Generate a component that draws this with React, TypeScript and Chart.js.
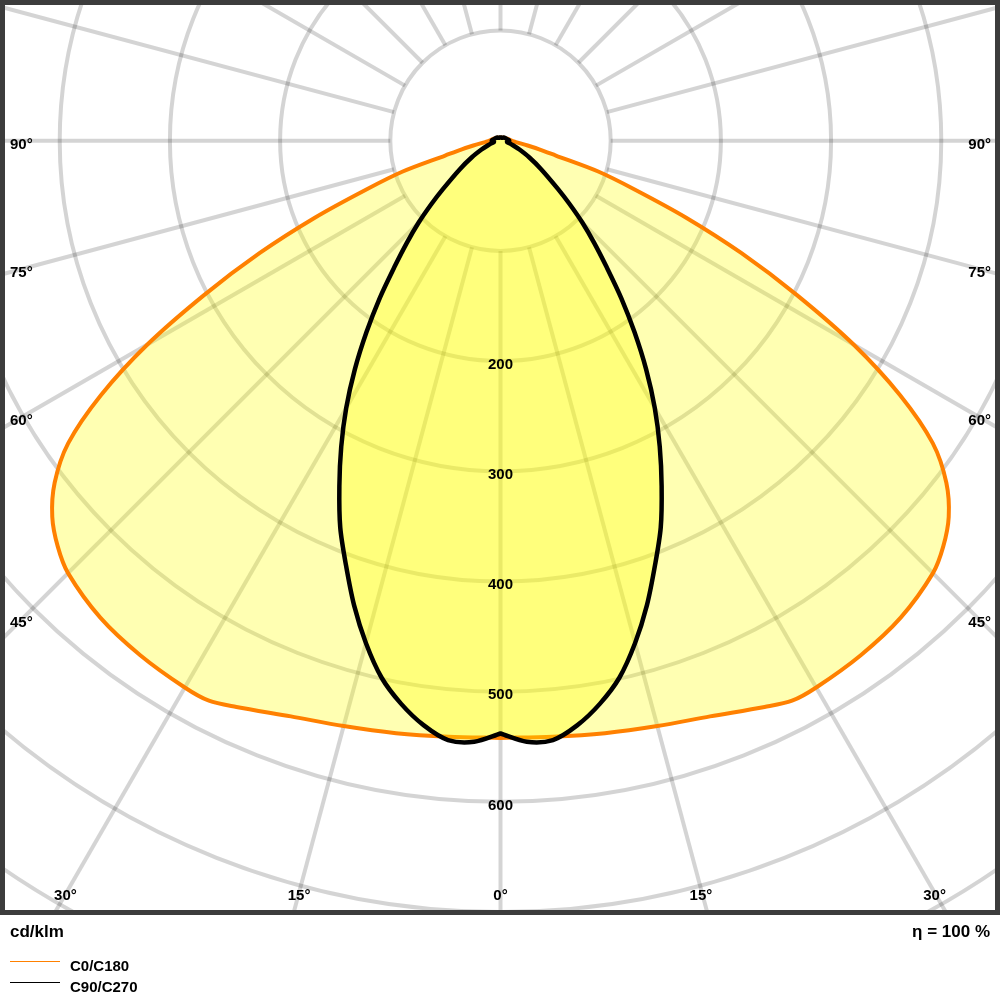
import React, { useEffect, useRef } from "react";
import { Chart, registerables } from "chart.js";

Chart.register(...registerables);

// Luminous intensity (cd/klm) per gamma angle (deg, 0 = straight down).
// Each C-plane pair is symmetric: C0 is drawn on the right, C180 mirrored on the left.
const GAMMA_C0_C180 = [0, 5, 10, 15, 20, 25, 27.5, 30, 35, 40, 45, 47.5, 50, 52.5, 55, 57.5, 60, 62.5, 65, 67.5, 70, 72.5, 75, 77.5, 80, 85, 90, 105, 120, 135, 150, 165, 180];
const I_C0_C180 = [542, 543, 546, 550, 556, 567, 573, 573, 570, 565, 555, 545, 531, 510, 479, 430, 370, 303, 241, 182, 130, 93, 52, 36, 25, 14, 10, 7, 5, 4, 3, 3, 3];

const GAMMA_C90_C270 = [0, 2.5, 5, 7.5, 10, 12.5, 15, 17.5, 20, 22.5, 25, 27.5, 30, 32.5, 35, 37.5, 40, 42.5, 45, 47.5, 50, 55, 60, 65, 70, 75, 80, 85, 90, 105, 120, 135, 150, 165, 180];
const I_C90_C270 = [538, 546, 546, 535, 519, 499, 472, 442, 410, 380, 346, 313, 280, 246, 212, 180, 150, 126, 105, 85, 68, 45, 30, 19, 12, 8, 6, 7, 8, 6, 5, 4, 3, 3, 3];

const SERIES_NAMES = ["C0/C180", "C90/C270"];
const SERIES_COLORS = ["#FF8000", "#000000"];

const RING_VALUES = [100, 200, 300, 400, 500, 600, 700, 800, 900];
const RING_LABELS = [200, 300, 400, 500, 600];
const SPOKE_STEP = 15;
const SIDE_ANGLE_LABELS = [90, 75, 60, 45];
const BOTTOM_ANGLE_LABELS = [30, 15, 0];
const UNIT_LABEL = "cd/klm";
const EFFICIENCY_LABEL = "η = 100 %";

const FONT = '"Liberation Sans", Arial, Helvetica, sans-serif';
const RAD = Math.PI / 180;

function toPoints(gammas: number[], values: number[]) {
  const right = gammas.map((g, i) => ({
    x: values[i] * Math.sin(g * RAD),
    y: -values[i] * Math.cos(g * RAD),
  }));
  const left: { x: number; y: number }[] = [];
  for (let i = gammas.length - 1; i >= 0; i--) {
    left.push({
      x: -values[i] * Math.sin(gammas[i] * RAD),
      y: -values[i] * Math.cos(gammas[i] * RAD),
    });
  }
  return [...right, ...left];
}

const polarGridPlugin = {
  id: "polarGrid",
  beforeDraw(chart: any) {
    const { ctx, width, height } = chart;
    ctx.save();
    ctx.fillStyle = "#ffffff";
    ctx.fillRect(0, 0, width, height);
    ctx.restore();
  },
  beforeDatasetsDraw(chart: any) {
    const { ctx, chartArea: a, scales } = chart;
    const cx = scales.x.getPixelForValue(0);
    const cy = scales.y.getPixelForValue(0);
    const k = (scales.x.getPixelForValue(100) - cx) / 100;
    ctx.save();
    ctx.beginPath();
    ctx.rect(a.left, a.top, a.right - a.left, a.bottom - a.top);
    ctx.clip();
    ctx.strokeStyle = "rgba(0,0,0,0.17)";
    ctx.lineWidth = 4;
    for (const r of RING_VALUES) {
      ctx.beginPath();
      ctx.arc(cx, cy, r * k, 0, Math.PI * 2);
      ctx.stroke();
    }
    const r0 = RING_VALUES[0] * k;
    const r1 = 1300 * k;
    for (let g = 0; g < 360; g += SPOKE_STEP) {
      const dx = Math.sin(g * RAD);
      const dy = Math.cos(g * RAD);
      ctx.beginPath();
      ctx.moveTo(cx + dx * r0, cy + dy * r0);
      ctx.lineTo(cx + dx * r1, cy + dy * r1);
      ctx.stroke();
    }
    ctx.restore();
  },
  afterDatasetsDraw(chart: any) {
    const { ctx, chartArea: a, scales } = chart;
    const cx = scales.x.getPixelForValue(0);
    const cy = scales.y.getPixelForValue(0);
    const k = (scales.x.getPixelForValue(100) - cx) / 100;
    ctx.save();
    ctx.fillStyle = "#000";
    ctx.font = `bold 15px ${FONT}`;
    ctx.textBaseline = "middle";
    ctx.textAlign = "center";
    for (const v of RING_LABELS) {
      ctx.fillText(String(v), cx, cy + v * k + 3.5);
    }
    const leftCenter = a.left + 22;
    const rightCenter = a.right - 21;
    for (const g of SIDE_ANGLE_LABELS) {
      const cot = Math.cos(g * RAD) / Math.sin(g * RAD);
      ctx.textAlign = "left";
      ctx.fillText(`${g}°`, a.left + 10, cy + (cx - leftCenter) * cot + 4);
      ctx.textAlign = "right";
      ctx.fillText(`${g}°`, a.right - 9, cy + (rightCenter - cx) * cot + 4);
    }
    const by = a.bottom - 16;
    ctx.textAlign = "center";
    for (const g of BOTTOM_ANGLE_LABELS) {
      const off = (by - cy) * Math.tan(g * RAD);
      ctx.fillText(`${g}°`, cx - off + (g ? 1 : 0), by);
      if (g !== 0) ctx.fillText(`${g}°`, cx + off - 2, by);
    }
    ctx.restore();
  },
  afterDraw(chart: any) {
    const { ctx, chartArea: a } = chart;
    ctx.save();
    ctx.strokeStyle = "#3c3c3c";
    ctx.lineWidth = 5;
    ctx.strokeRect(a.left + 2.5, a.top + 2.5, a.right - a.left - 5, a.bottom + 0.5 - (a.top + 2.5));
    ctx.fillStyle = "#000";
    ctx.font = `bold 17px ${FONT}`;
    ctx.textBaseline = "alphabetic";
    ctx.textAlign = "left";
    ctx.fillText(UNIT_LABEL, a.left + 10, a.bottom + 25);
    ctx.textAlign = "right";
    ctx.fillText(EFFICIENCY_LABEL, a.right - 10, a.bottom + 25);
    ctx.font = `bold 15px ${FONT}`;
    ctx.textAlign = "left";
    const ds = chart.data.datasets;
    const order = [ds.length - 1, ds.length - 2];
    order.forEach((idx, row) => {
      const d = ds[idx];
      const ly = a.bottom + 49.5 + row * 21;
      ctx.strokeStyle = d.borderColor;
      ctx.lineWidth = 1;
      ctx.beginPath();
      ctx.moveTo(a.left + 10, ly);
      ctx.lineTo(a.left + 60, ly);
      ctx.stroke();
      ctx.fillText(d.label, a.left + 70, ly + 9.5);
    });
    ctx.restore();
  },
};

export default function App() {
  const canvasRef = useRef<HTMLCanvasElement | null>(null);

  useEffect(() => {
    const canvas = canvasRef.current;
    if (!canvas) return;
    const common = {
      backgroundColor: "rgba(255,255,0,0.3)",
      fill: "shape",
      showLine: true,
      pointRadius: 0,
      pointHoverRadius: 0,
      tension: 0.3,
      borderJoinStyle: "round",
      borderCapStyle: "round",
    };
    const chart = new Chart(canvas, {
      type: "scatter",
      data: {
        datasets: [
          {
            ...common,
            label: SERIES_NAMES[1],
            data: toPoints(GAMMA_C90_C270, I_C90_C270),
            borderColor: SERIES_COLORS[1],
            borderWidth: 4.5,
          } as any,
          {
            ...common,
            label: SERIES_NAMES[0],
            data: toPoints(GAMMA_C0_C180, I_C0_C180),
            borderColor: SERIES_COLORS[0],
            borderWidth: 4,
          } as any,
        ],
      },
      options: {
        animation: false,
        responsive: false,
        devicePixelRatio: 1,
        layout: { padding: { left: 0, right: 0, top: 0, bottom: 88 } },
        scales: {
          x: { type: "linear", min: -454.2, max: 453.3, display: false, bounds: "data" },
          y: { type: "linear", min: -700, max: 127.7, display: false, bounds: "data" },
        },
        plugins: {
          legend: { display: false },
          tooltip: { enabled: false },
          filler: { propagate: false },
        },
        events: [],
      } as any,
      plugins: [polarGridPlugin],
    });
    return () => chart.destroy();
  }, []);

  return (
    <div style={{ position: "absolute", left: 0, top: 0, width: 1000, height: 1000 }}>
      <canvas ref={canvasRef} width={1000} height={1000} style={{ display: "block" }} />
    </div>
  );
}
